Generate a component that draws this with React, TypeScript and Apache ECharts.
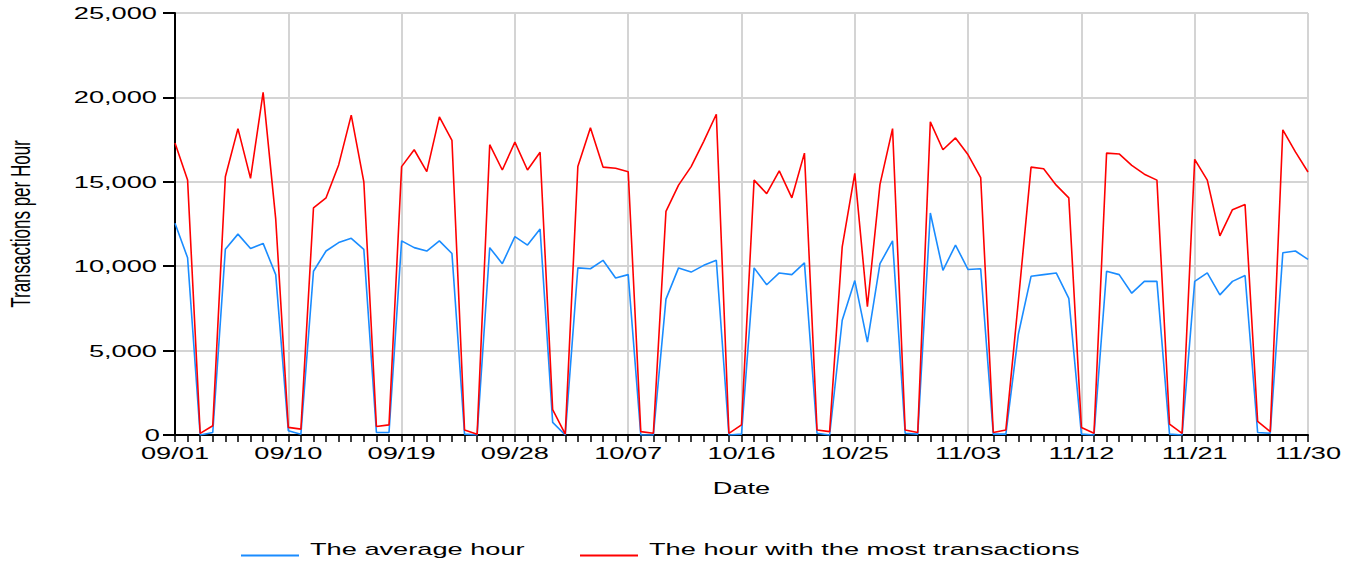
import React, { useEffect, useRef } from "react";
import * as echarts from "echarts";

const dates = [
  "09/01","09/02","09/03","09/04","09/05","09/06","09/07","09/08","09/09","09/10",
  "09/11","09/12","09/13","09/14","09/15","09/16","09/17","09/18","09/19","09/20",
  "09/21","09/22","09/23","09/24","09/25","09/26","09/27","09/28","09/29","09/30",
  "10/01","10/02","10/03","10/04","10/05","10/06","10/07","10/08","10/09","10/10",
  "10/11","10/12","10/13","10/14","10/15","10/16","10/17","10/18","10/19","10/20",
  "10/21","10/22","10/23","10/24","10/25","10/26","10/27","10/28","10/29","10/30",
  "10/31","11/01","11/02","11/03","11/04","11/05","11/06","11/07","11/08","11/09",
  "11/10","11/11","11/12","11/13","11/14","11/15","11/16","11/17","11/18","11/19",
  "11/20","11/21","11/22","11/23","11/24","11/25","11/26","11/27","11/28","11/29",
  "11/30",
];

const averageHour = [
  12550, 10500, 0, 150, 11000, 11900, 11050, 11350, 9500, 250,
  50, 9700, 10900, 11400, 11650, 11000, 150, 150, 11500, 11100,
  10900, 11500, 10750, 50, 0, 11100, 10150, 11750, 11250, 12200,
  750, 0, 9900, 9850, 10350, 9300, 9500, 0, 0, 8050,
  9900, 9650, 10050, 10350, 0, 50, 9900, 8900, 9600, 9500,
  10200, 100, 0, 6800, 9150, 5500, 10150, 11500, 100, 50,
  13150, 9750, 11250, 9800, 9850, 50, 50, 6000, 9400, 9500,
  9600, 8100, 50, 0, 9700, 9500, 8400, 9100, 9100, 50,
  0, 9100, 9600, 8300, 9100, 9450, 150, 100, 10800, 10900,
  10400,
];

const peakHour = [
  17300, 15100, 100, 550, 15300, 18150, 15200, 20300, 12800, 450,
  350, 13450, 14050, 16000, 18950, 15000, 500, 600, 15900, 16900,
  15600, 18850, 17450, 300, 50, 17200, 15700, 17350, 15700, 16750,
  1500, 50, 15900, 18200, 15870, 15800, 15600, 200, 100, 13250,
  14800, 15900, 17400, 19000, 100, 600, 15100, 14300, 15650, 14050,
  16700, 300, 200, 11150, 15500, 7600, 14850, 18150, 300, 150,
  18550, 16900, 17600, 16600, 15250, 150, 300, 8000, 15870, 15770,
  14800, 14050, 450, 100, 16700, 16650, 15970, 15450, 15100, 650,
  100, 16330, 15100, 11800, 13350, 13650, 800, 200, 18080, 16770,
  15580,
];

const seriesNames = ["The average hour", "The hour with the most transactions"];
const seriesColors = ["#1a8cff", "#ff0000"];
const yMin = 0;
const yMax = 25000;
const yStep = 5000;

const FONT = '"Liberation Sans", Arial, Helvetica, sans-serif';
const STRETCH = 1.6;
// legend icon: an invisible dot at the top plus a line at the bottom of the icon box
const LEGEND_ICON = "path://M0,0L0.01,0L0.01,0.01L0,0.01Z M0,12L58,12L58,14L0,14Z";

function stretchTexts(root: HTMLElement | null) {
  if (!root) return;
  const svg = root.querySelector("svg");
  if (!svg) return;
  const sr = svg.getBoundingClientRect();
  svg.querySelectorAll("text").forEach((t) => {
    if (t.getAttribute("data-stretched")) return;
    const r = t.getBoundingClientRect();
    if (r.width === 0 && r.height === 0) return;
    const anchor =
      t.getAttribute("text-anchor") ||
      (getComputedStyle(t) as any).textAnchor ||
      "start";
    let ax: number;
    if (r.height > r.width * 1.5 || anchor === "middle") ax = (r.left + r.right) / 2 - sr.left;
    else if (anchor === "end") ax = r.right - sr.left;
    else ax = r.left - sr.left;
    const tr = t.getAttribute("transform") || "";
    t.setAttribute(
      "transform",
      `translate(${ax},0) scale(${STRETCH},1) translate(${-ax},0) ${tr}`
    );
    t.setAttribute("data-stretched", "1");
  });
}

export default function App() {
  const ref = useRef<HTMLDivElement>(null);

  useEffect(() => {
    document.body.style.margin = "0";
    const el = ref.current!;
    const chart = echarts.init(el, undefined, { renderer: "svg" });
    const textBase = { fontFamily: FONT, fontSize: 17, color: "#000" };
    const legendBase = {
      top: 541,
      padding: 0,
      icon: LEGEND_ICON,
      itemWidth: 58,
      itemHeight: 14,
      textStyle: { ...textBase, padding: [0, 0, 0, 6] },
      selectedMode: false,
    };

    chart.setOption({
      animation: false,
      backgroundColor: "#fff",
      grid: { left: 175, right: 44, top: 13, bottom: 127, containLabel: false },
      legend: [
        { ...legendBase, data: [seriesNames[0]], left: 241 },
        { ...legendBase, data: [seriesNames[1]], left: 580 },
      ],
      xAxis: {
        type: "category",
        data: dates,
        boundaryGap: false,
        name: "Date",
        nameLocation: "middle",
        nameGap: 45,
        nameTextStyle: textBase,
        axisLine: { show: true, lineStyle: { color: "#000", width: 2 } },
        axisTick: { show: true, interval: 0, length: 7, lineStyle: { color: "#000", width: 1.5 } },
        axisLabel: { ...textBase, interval: 8, margin: 10 },
        splitLine: { show: true, interval: 8, lineStyle: { color: "#d4d4d4", width: 2 } },
      },
      yAxis: {
        type: "value",
        min: yMin,
        max: yMax,
        interval: yStep,
        name: "Transactions per Hour",
        nameLocation: "middle",
        nameRotate: 90,
        nameGap: 146,
        nameTextStyle: textBase,
        axisLine: { show: true, lineStyle: { color: "#000", width: 2 } },
        axisTick: { show: true, length: 12, lineStyle: { color: "#000", width: 2 } },
        axisLabel: {
          ...textBase,
          margin: 18,
          formatter: (v: number) => v.toLocaleString("en-US"),
        },
        splitLine: { show: true, lineStyle: { color: "#d4d4d4", width: 2 } },
      },
      series: [
        {
          name: seriesNames[0],
          type: "line",
          data: averageHour,
          symbol: "none",
          color: seriesColors[0],
          lineStyle: { color: seriesColors[0], width: 1.6 },
          emphasis: { disabled: true },
        },
        {
          name: seriesNames[1],
          type: "line",
          data: peakHour,
          symbol: "none",
          color: seriesColors[1],
          lineStyle: { color: seriesColors[1], width: 1.6 },
          emphasis: { disabled: true },
        },
      ],
    });

    stretchTexts(el);
    const onFinished = () => stretchTexts(el);
    chart.on("finished", onFinished);

    return () => {
      chart.off("finished", onFinished);
      chart.dispose();
    };
  }, []);

  return <div ref={ref} style={{ width: 1352, height: 562 }} />;
}
